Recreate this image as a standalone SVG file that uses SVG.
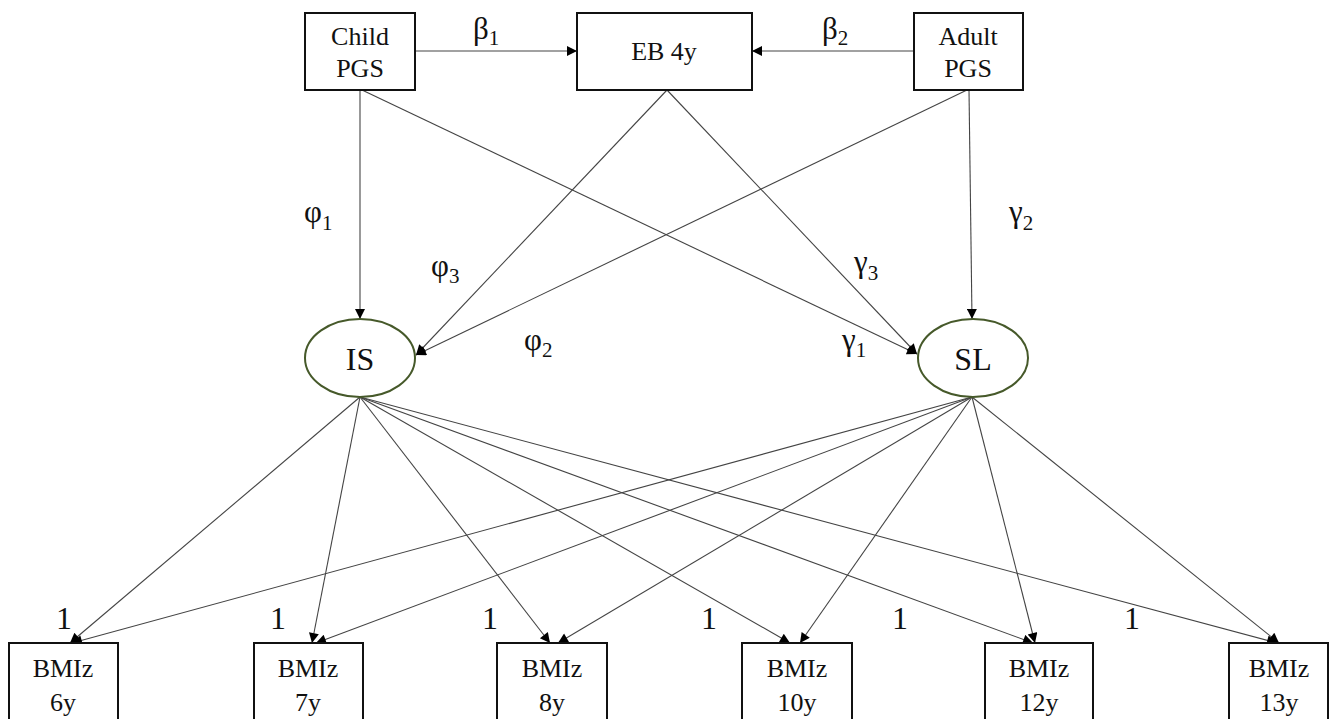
<svg xmlns="http://www.w3.org/2000/svg" width="1329" height="719" viewBox="0 0 1329 719" font-family="'Liberation Serif', 'Times New Roman', serif">
<style>
text{font-family:"Liberation Serif","Times New Roman",serif;fill:#111;}
.box{fill:#fff;stroke:#111;stroke-width:2;}
.ell{fill:#fff;stroke:#46592a;stroke-width:2;}
.n{font-size:26px;text-anchor:middle;}
.lat{font-size:32px;text-anchor:middle;}
.g{font-size:31px;}
.s{font-size:21px;}
.one{font-size:32px;}
#edges line{stroke:#444;stroke-width:1.1;fill:none;marker-end:url(#ah);}
</style>
<defs>
<marker id="ah" viewBox="0 0 10 10" refX="10" refY="5" markerWidth="13" markerHeight="10" markerUnits="userSpaceOnUse" orient="auto">
<path d="M0,0 L10,5 L0,10 z" fill="#000"/>
</marker>
</defs>
<rect width="1329" height="719" fill="#fff"/>
<g id="edges">
<line x1="415" y1="51" x2="577" y2="51"/>
<line x1="914" y1="51" x2="752" y2="51"/>
<line x1="360" y1="90" x2="360" y2="319"/>
<line x1="362" y1="90" x2="917" y2="354"/>
<line x1="667" y1="90" x2="917" y2="354"/>
<line x1="667" y1="90" x2="416" y2="355"/>
<line x1="967" y1="90" x2="416" y2="355"/>
<line x1="969" y1="90" x2="972" y2="319"/>
<line x1="360" y1="397" x2="70" y2="643"/>
<line x1="360" y1="397" x2="312" y2="643"/>
<line x1="360" y1="397" x2="550" y2="643"/>
<line x1="360" y1="397" x2="790" y2="643"/>
<line x1="360" y1="397" x2="1033" y2="643"/>
<line x1="360" y1="397" x2="1277" y2="643"/>
<line x1="972" y1="397" x2="72" y2="643"/>
<line x1="972" y1="397" x2="316" y2="643"/>
<line x1="972" y1="397" x2="558" y2="643"/>
<line x1="972" y1="397" x2="800" y2="643"/>
<line x1="972" y1="397" x2="1035" y2="643"/>
<line x1="972" y1="397" x2="1279" y2="643"/>
</g>
<g id="labels">
<text class="g" x="473" y="39">β<tspan class="s" dy="6">1</tspan></text>
<text class="g" x="822" y="39">β<tspan class="s" dy="6">2</tspan></text>
<text class="g" x="304" y="222">φ<tspan class="s" dy="8">1</tspan></text>
<text class="g" x="431" y="276">φ<tspan class="s" dy="7">3</tspan></text>
<text class="g" x="524" y="350">φ<tspan class="s" dy="7">2</tspan></text>
<text class="g" x="1009" y="222">γ<tspan class="s" dy="8">2</tspan></text>
<text class="g" x="854" y="272">γ<tspan class="s" dy="8">3</tspan></text>
<text class="g" x="842" y="350">γ<tspan class="s" dy="7">1</tspan></text>
<text class="one" x="56" y="629">1</text>
<text class="one" x="270" y="629">1</text>
<text class="one" x="482" y="629">1</text>
<text class="one" x="701" y="629">1</text>
<text class="one" x="892" y="629">1</text>
<text class="one" x="1124" y="629">1</text>
</g>
<g id="child-pgs"><rect class="box" x="305" y="13" width="110" height="77"/><text class="n" x="360" y="45">Child</text><text class="n" x="360" y="77">PGS</text></g>
<g id="eb-4y"><rect class="box" x="577" y="13" width="175" height="77"/><text class="n" x="664" y="60">EB 4y</text></g>
<g id="adult-pgs"><rect class="box" x="914" y="13" width="109" height="77"/><text class="n" x="968" y="45">Adult</text><text class="n" x="968" y="77">PGS</text></g>
<g id="is"><ellipse class="ell" cx="360" cy="358" rx="55" ry="39"/><text class="lat" x="360" y="370">IS</text></g>
<g id="sl"><ellipse class="ell" cx="973" cy="358" rx="55" ry="39"/><text class="lat" x="973" y="370">SL</text></g>
<g id="bmi6"><rect class="box" x="9" y="643" width="109" height="80"/><text class="n" x="63" y="677">BMIz</text><text class="n" x="63" y="711">6y</text></g>
<g id="bmi7"><rect class="box" x="254" y="643" width="109" height="80"/><text class="n" x="308" y="677">BMIz</text><text class="n" x="308" y="711">7y</text></g>
<g id="bmi8"><rect class="box" x="497" y="643" width="110" height="80"/><text class="n" x="552" y="677">BMIz</text><text class="n" x="552" y="711">8y</text></g>
<g id="bmi10"><rect class="box" x="742" y="643" width="110" height="80"/><text class="n" x="797" y="677">BMIz</text><text class="n" x="797" y="711">10y</text></g>
<g id="bmi12"><rect class="box" x="985" y="643" width="108" height="80"/><text class="n" x="1039" y="677">BMIz</text><text class="n" x="1039" y="711">12y</text></g>
<g id="bmi13"><rect class="box" x="1229" y="643" width="99" height="80"/><text class="n" x="1279" y="677">BMIz</text><text class="n" x="1279" y="711">13y</text></g>
</svg>
